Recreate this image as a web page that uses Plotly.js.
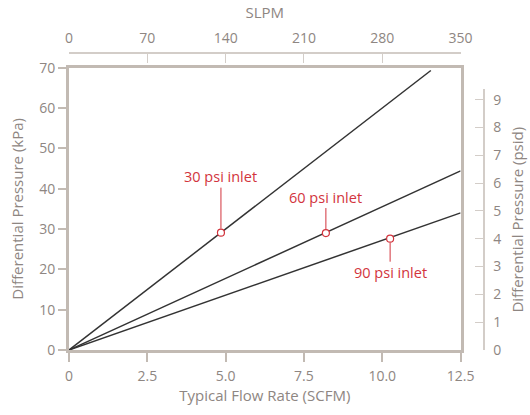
<!DOCTYPE html>
<html><head><meta charset="utf-8">
<script src="https://cdn.plot.ly/plotly-3.0.1.min.js"></script>
<style>html,body{margin:0;padding:0;background:#fff}#chart{width:530px;height:415px}</style>
</head><body><div id="chart"></div>
<script>
// Data (Typical Flow Rate in SCFM vs Differential Pressure in kPa)
const seriesNames = ["30 psi inlet", "60 psi inlet", "90 psi inlet"];
const flow30 = [0, 11.55];
const dp30 = [0, 69.3];
const flow60 = [0, 12.5];
const dp60 = [0, 44.4];
const flow90 = [0, 12.5];
const dp90 = [0, 34.0];
// labelled points on each curve
const labelFlow = [4.85, 8.2, 10.25];
const labelDp = [29.1, 29.0, 27.6];
const labelOffsetY = [-56, -36, 34];
// axis ticks
const scfmTicks = [0, 2.5, 5.0, 7.5, 10.0, 12.5];
const scfmTickText = ["0", "2.5", "5.0", "7.5", "10.0", "12.5"];
const slpmTicks = [0, 70, 140, 210, 280, 350];
const kpaTicks = [0, 10, 20, 30, 40, 50, 60, 70];
const psidTicks = [0, 1, 2, 3, 4, 5, 6, 7, 8, 9];

const FONT = "'Open Sans', Lato, sans-serif";
const GREY = "#8e8682";
const FRAME = "#c2bab3";
const THIN = "#d3cdc8";
const RED = "#d2343d";
const LINE = "#333333";

const traces = [
  {x: flow30, y: dp30, mode: "lines", line: {color: LINE, width: 1.5}, name: seriesNames[0]},
  {x: flow60, y: dp60, mode: "lines", line: {color: LINE, width: 1.5}, name: seriesNames[1]},
  {x: flow90, y: dp90, mode: "lines", line: {color: LINE, width: 1.5}, name: seriesNames[2]},
  {x: labelFlow, y: labelDp, mode: "markers", marker: {symbol: "circle", size: 7, color: "#ffffff", line: {color: RED, width: 1.2}}},
  // carriers for secondary axes
  {x: [0, 350], y: [null, null], xaxis: "x2", yaxis: "y", mode: "lines", hoverinfo: "skip"},
  {x: [null, null], y: [0, 9.37], xaxis: "x", yaxis: "y3", mode: "lines", hoverinfo: "skip"}
];

const annotations = labelFlow.map((fx, i) => ({
  x: fx, y: labelDp[i], xref: "x", yref: "y",
  text: seriesNames[i], showarrow: true, arrowhead: 0, arrowwidth: 1, arrowcolor: RED,
  ax: 0, ay: labelOffsetY[i], standoff: 4,
  font: {family: FONT, size: 14.5, color: RED}, borderpad: 1
}));

const xdom = 391.6 / 414;
const ydom = 282.3 / 298;

const layout = {
  width: 530, height: 415,
  margin: {l: 69, r: 47, t: 52, b: 65},
  showlegend: false,
  paper_bgcolor: "#fff", plot_bgcolor: "rgba(0,0,0,0)",
  font: {family: FONT, size: 15, color: GREY},
  xaxis: {
    domain: [0, xdom], range: [0, 12.5], tickvals: scfmTicks, ticktext: scfmTickText,
    showgrid: false, zeroline: false, showline: true, linecolor: FRAME, linewidth: 3, mirror: true,
    ticks: "outside", ticklen: 9, tickwidth: 2, tickcolor: FRAME, ticklabelstandoff: 2,
    title: {text: "Typical Flow Rate (SCFM)", font: {size: 15, color: GREY}, standoff: 7},
    tickfont: {size: 14, color: GREY}
  },
  xaxis2: {
    overlaying: "x", anchor: "free", position: 1, side: "top", range: [0, 350], tickvals: slpmTicks,
    showgrid: false, zeroline: false, showline: true, linecolor: THIN, linewidth: 1.5,
    ticks: "inside", ticklen: 9, tickwidth: 1, tickcolor: THIN, ticklabelstandoff: 3,
    title: {text: "SLPM", font: {size: 15, color: GREY}, standoff: 4},
    tickfont: {size: 14, color: GREY}
  },
  yaxis: {
    domain: [0, ydom], range: [0, 70], tickvals: kpaTicks,
    showgrid: false, zeroline: false, showline: true, linecolor: FRAME, linewidth: 3, mirror: true,
    ticks: "outside", ticklen: 8, tickwidth: 2, tickcolor: FRAME,
    title: {text: "Differential Pressure (kPa)", font: {size: 15, color: GREY}, standoff: 12},
    tickfont: {size: 14, color: GREY}
  },
  yaxis3: {
    anchor: "free", position: 1, side: "right",
    domain: [0, ydom * (9.37 * 6.895 / 70)], range: [0, 9.37], tickvals: psidTicks,
    showgrid: false, zeroline: false, showline: true, linecolor: THIN, linewidth: 1.5,
    ticks: "inside", ticklen: 8, tickwidth: 1, tickcolor: THIN, ticklabelstandoff: 6,
    title: {text: "Differential Pressure (psid)", font: {size: 15, color: GREY}, standoff: 12},
    tickfont: {size: 14, color: GREY}
  },
  annotations: annotations
};

Plotly.newPlot("chart", traces, layout, {displayModeBar: false, staticPlot: true});
</script>
</body></html>
